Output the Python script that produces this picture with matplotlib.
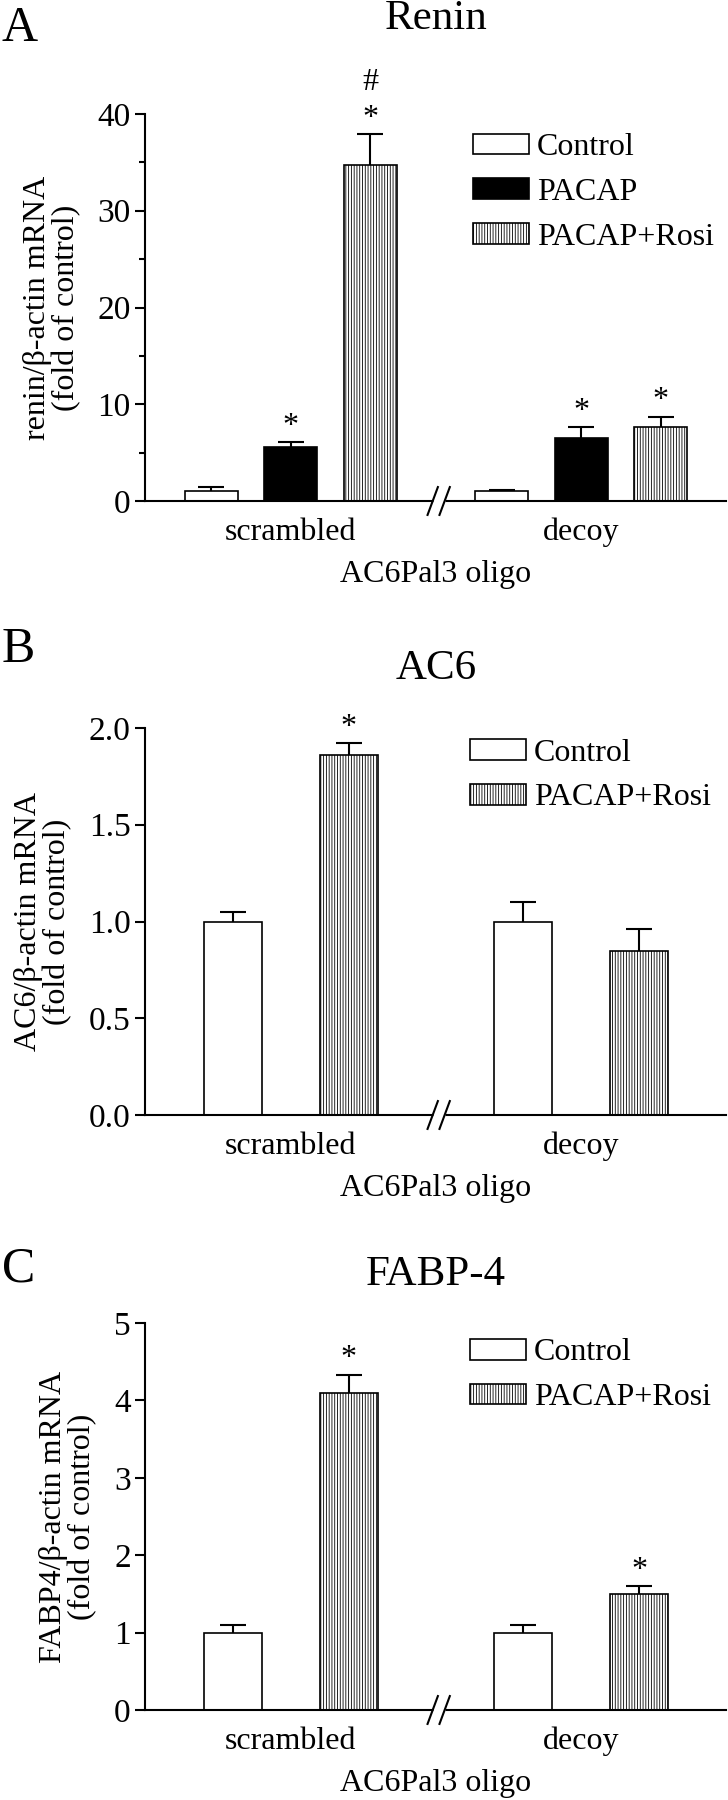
import matplotlib
matplotlib.use("Agg")
import matplotlib.pyplot as plt
import numpy as np

plt.rcParams['font.family'] = ['Liberation Serif', 'DejaVu Serif']
plt.rcParams['hatch.linewidth'] = 0.6

# ---------------- data ----------------
groups = ["scrambled", "decoy"]
xlabel = "AC6Pal3 oligo"

# Panel A: Renin
renin_control = [1.0, 1.0]
renin_control_err = [0.4, 0.15]
renin_pacap = [5.6, 6.55]
renin_pacap_err = [0.5, 1.1]
renin_rosi = [34.7, 7.7]
renin_rosi_err = [3.2, 1.0]
renin_marks_pacap = ["*", "*"]
renin_marks_rosi = ["#\n*", "*"]

# Panel B: AC6
ac6_control = [1.0, 1.0]
ac6_control_err = [0.05, 0.10]
ac6_rosi = [1.86, 0.85]
ac6_rosi_err = [0.06, 0.11]
ac6_marks_rosi = ["*", ""]

# Panel C: FABP-4
fabp_control = [1.0, 1.0]
fabp_control_err = [0.1, 0.1]
fabp_rosi = [4.1, 1.5]
fabp_rosi_err = [0.23, 0.1]
fabp_marks_rosi = ["*", "*"]

# ---------------- style ----------------
W, H = 728, 1800
fig = plt.figure(figsize=(W / 100, H / 100), dpi=100)

LW = 1.5
EDGE = 1.2
FS = 23
TICKFS = 24
TITLEFS = 31
LETTERFS = 36

ax_left = 145 / W
ax_width = 581 / W
ax_height = 387 / H
bottoms_px = [501, 1115, 1710]

XMAX = 7.3
BREAK_X = 3.69
group_centers = np.array([1.83, 5.48])


def make_axes(bottom_px):
    ax = fig.add_axes([ax_left, 1 - bottom_px / H, ax_width, ax_height])
    for s in ["top", "right"]:
        ax.spines[s].set_visible(False)
    for s in ["left", "bottom"]:
        ax.spines[s].set_linewidth(LW)
    ax.set_xlim(0, XMAX)
    ax.tick_params(axis='y', which='major', length=7.2, width=LW, pad=3.0,
                   labelsize=TICKFS, direction='out')
    ax.tick_params(axis='y', which='minor', length=4.0, width=LW, direction='out')
    ax.tick_params(axis='x', length=0, pad=12, labelsize=FS)
    ax.set_xticks(group_centers)
    ax.set_xticklabels(groups)
    ax.set_xlabel(xlabel, fontsize=FS, labelpad=9)
    return ax


def draw_break(ax):
    dx = 0.065
    dy = 0.036
    gap = 0.075
    ax.plot([BREAK_X - gap, BREAK_X + gap], [0, 0], color='white', lw=LW * 2.5,
            transform=ax.get_xaxis_transform(), clip_on=False, zorder=5,
            solid_capstyle='butt')
    for off in (-gap, gap):
        ax.plot([BREAK_X + off - dx, BREAK_X + off + dx], [-dy, dy],
                color='black', lw=LW, transform=ax.get_xaxis_transform(),
                clip_on=False, zorder=6)


def bars(ax, xs, vals, errs, width, face, hatch=None, label=None):
    b = ax.bar(xs, vals, width=width, color=face, edgecolor='black',
               linewidth=EDGE, hatch=hatch, label=label, zorder=2)
    eb = ax.errorbar(xs, vals, yerr=[np.zeros(len(vals)), errs], fmt='none',
                     ecolor='black', elinewidth=LW, capsize=9.7, capthick=LW,
                     zorder=3)
    caps = eb[1]
    if len(caps) > 0:
        caps[0].set_visible(False)
    return b


def marks(ax, xs, vals, errs, texts):
    for x, v, e, t in zip(xs, vals, errs, texts):
        if t:
            ax.annotate(t, xy=(x, v + e), xytext=(0, 1), textcoords='offset points',
                        ha='center', va='bottom', fontsize=FS, linespacing=1.3,
                        annotation_clip=False)


def ylab(ax, text):
    ax.set_ylabel(text, fontsize=FS, linespacing=1.0, labelpad=12)


def legend(ax, x, y):
    ax.legend(loc='upper left', bbox_to_anchor=(x, y), frameon=False,
              fontsize=FS, handlelength=1.75, handleheight=0.62,
              handletextpad=0.25, labelspacing=0.49, borderpad=0,
              borderaxespad=0)


# ---------------- Panel A ----------------
axA = make_axes(bottoms_px[0])
wA = 0.665
xa_c = group_centers - 1.0
xa_p = group_centers
xa_r = group_centers + 1.0
bars(axA, xa_c, renin_control, renin_control_err, wA, 'white', label='Control')
bars(axA, xa_p, renin_pacap, renin_pacap_err, wA, 'black', label='PACAP')
bars(axA, xa_r, renin_rosi, renin_rosi_err, wA, 'white', hatch='||||||', label='PACAP+Rosi')
marks(axA, xa_p, renin_pacap, renin_pacap_err, renin_marks_pacap)
marks(axA, xa_r, renin_rosi, renin_rosi_err, renin_marks_rosi)
axA.set_ylim(0, 40)
axA.set_yticks([0, 10, 20, 30, 40])
axA.set_yticks([5, 15, 25, 35], minor=True)
ylab(axA, "renin/β-actin mRNA\n(fold of control)")
legend(axA, 0.5645, 0.95)
draw_break(axA)

# ---------------- Panel B ----------------
axB = make_axes(bottoms_px[1])
wB = 0.729
xb_c = group_centers - 0.728
xb_r = group_centers + 0.728
bars(axB, xb_c, ac6_control, ac6_control_err, wB, 'white', label='Control')
bars(axB, xb_r, ac6_rosi, ac6_rosi_err, wB, 'white', hatch='||||||', label='PACAP+Rosi')
marks(axB, xb_r, ac6_rosi, ac6_rosi_err, ac6_marks_rosi)
axB.set_ylim(0, 2.0)
axB.set_yticks([0.0, 0.5, 1.0, 1.5, 2.0])
axB.set_yticklabels(["0.0", "0.5", "1.0", "1.5", "2.0"])
ylab(axB, "AC6/β-actin mRNA\n(fold of control)")
legend(axB, 0.559, 0.972)
draw_break(axB)

# ---------------- Panel C ----------------
axC = make_axes(bottoms_px[2])
bars(axC, xb_c, fabp_control, fabp_control_err, wB, 'white', label='Control')
bars(axC, xb_r, fabp_rosi, fabp_rosi_err, wB, 'white', hatch='||||||', label='PACAP+Rosi')
marks(axC, xb_r, fabp_rosi, fabp_rosi_err, fabp_marks_rosi)
axC.set_ylim(0, 5)
axC.set_yticks([0, 1, 2, 3, 4, 5])
ylab(axC, "FABP4/β-actin mRNA\n(fold of control)")
legend(axC, 0.559, 0.96)
draw_break(axC)

# ---------------- titles & panel letters ----------------
titles = [("Renin", 19), ("AC6", 669), ("FABP-4", 1275)]
for t, ypx in titles:
    fig.text(436 / W, 1 - ypx / H, t, ha='center', va='center', fontsize=TITLEFS)
letters = [("A", 29), ("B", 650), ("C", 1269)]
for t, ypx in letters:
    fig.text(2 / W, 1 - ypx / H, t, ha='left', va='center', fontsize=LETTERFS)

fig.savefig("out.png", dpi=100)
